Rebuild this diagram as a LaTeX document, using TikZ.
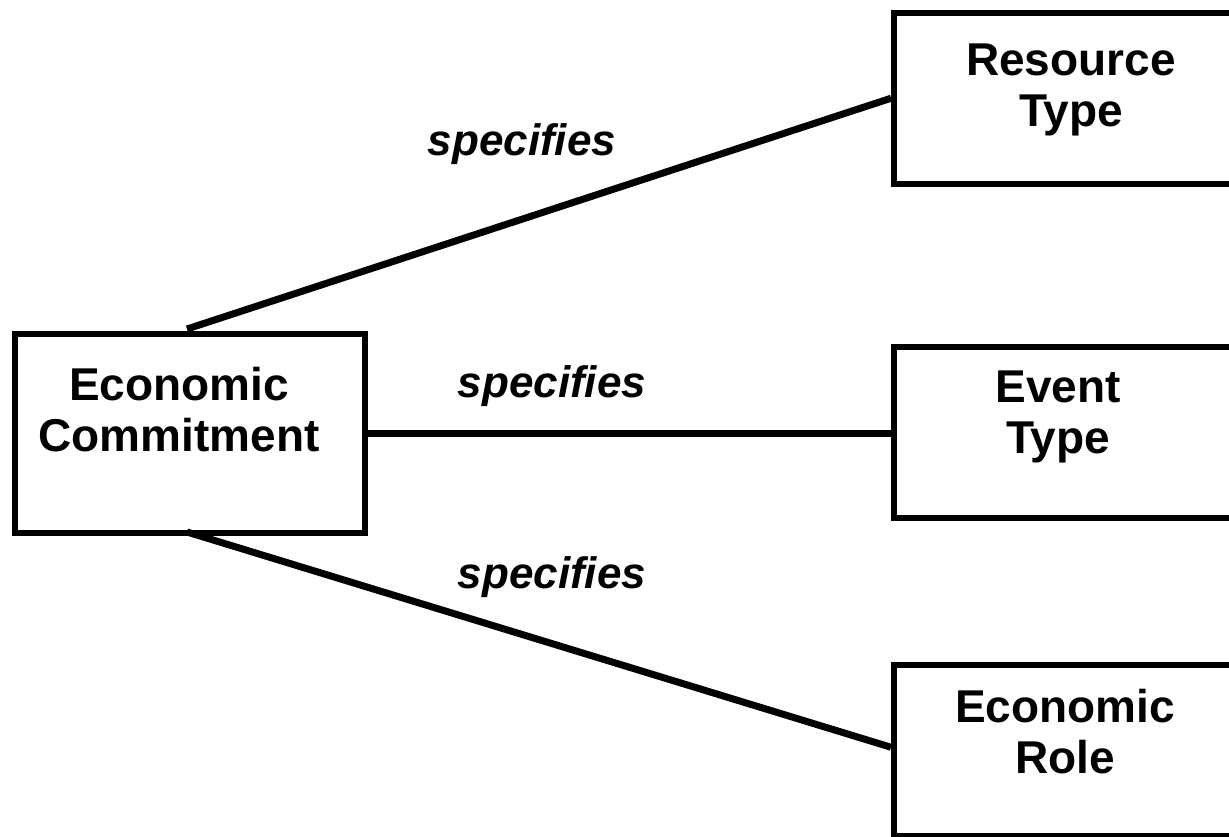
\documentclass[tikz,border=0pt]{standalone}
\usepackage{fontspec}
\setmainfont{Liberation Sans}
\usetikzlibrary{calc}
\begin{document}
\begin{tikzpicture}[x=1pt,y=-1pt,
  box/.style={draw=black, line width=5.5pt, fill=white, rectangle, inner sep=0pt, anchor=north west},
  boxtext/.style={align=center, inner sep=0pt, anchor=north, font=\bfseries\fontsize{46}{51}\selectfont},
  rel/.style={inner sep=0pt, anchor=base, font=\bfseries\itshape\fontsize{44}{51}\selectfont},
  link/.style={draw=black, line width=7pt}]
  \useasboundingbox (0,0) rectangle (1229,836);
  \fill[white] (0,0) rectangle (1229,836);

  % free ends of the two slanted connectors on the commitment box
  \coordinate (ecTop) at (187,329);
  \coordinate (ecBot) at (187,532);

  % boxes
  \node[box, minimum width=350pt, minimum height=199pt] (ec) at (12,331) {};
  \node[box, minimum width=349pt, minimum height=171pt] (rt) at (891,10) {};
  \node[box, minimum width=349pt, minimum height=171pt] (et) at (891,344) {};
  \node[box, minimum width=349pt, minimum height=171pt] (er) at (891,662) {};

  % connectors
  \draw[link] (ecTop) -- (rt.west);
  \draw[link] (ec.east) -- (ec.east -| et.west);
  \draw[link] (ecBot) -- ([yshift=3pt]er.west);

  % box texts
  \node[boxtext] (ectxt) at (179,367) {Economic\\Commitment};
  \node[boxtext] (rttxt) at (1071,44) {Resource\\Type};
  \node[boxtext] (ettxt) at (1058,371) {Event\\Type};
  \node[boxtext] (ertxt) at (1065,689) {Economic\\Role};

  % relationship labels
  \node[rel] (l1) at (522,155) {specifies};
  \node[rel] (l2) at (552,397) {specifies};
  \node[rel] (l3) at (552,588) {specifies};
\end{tikzpicture}
\end{document}
